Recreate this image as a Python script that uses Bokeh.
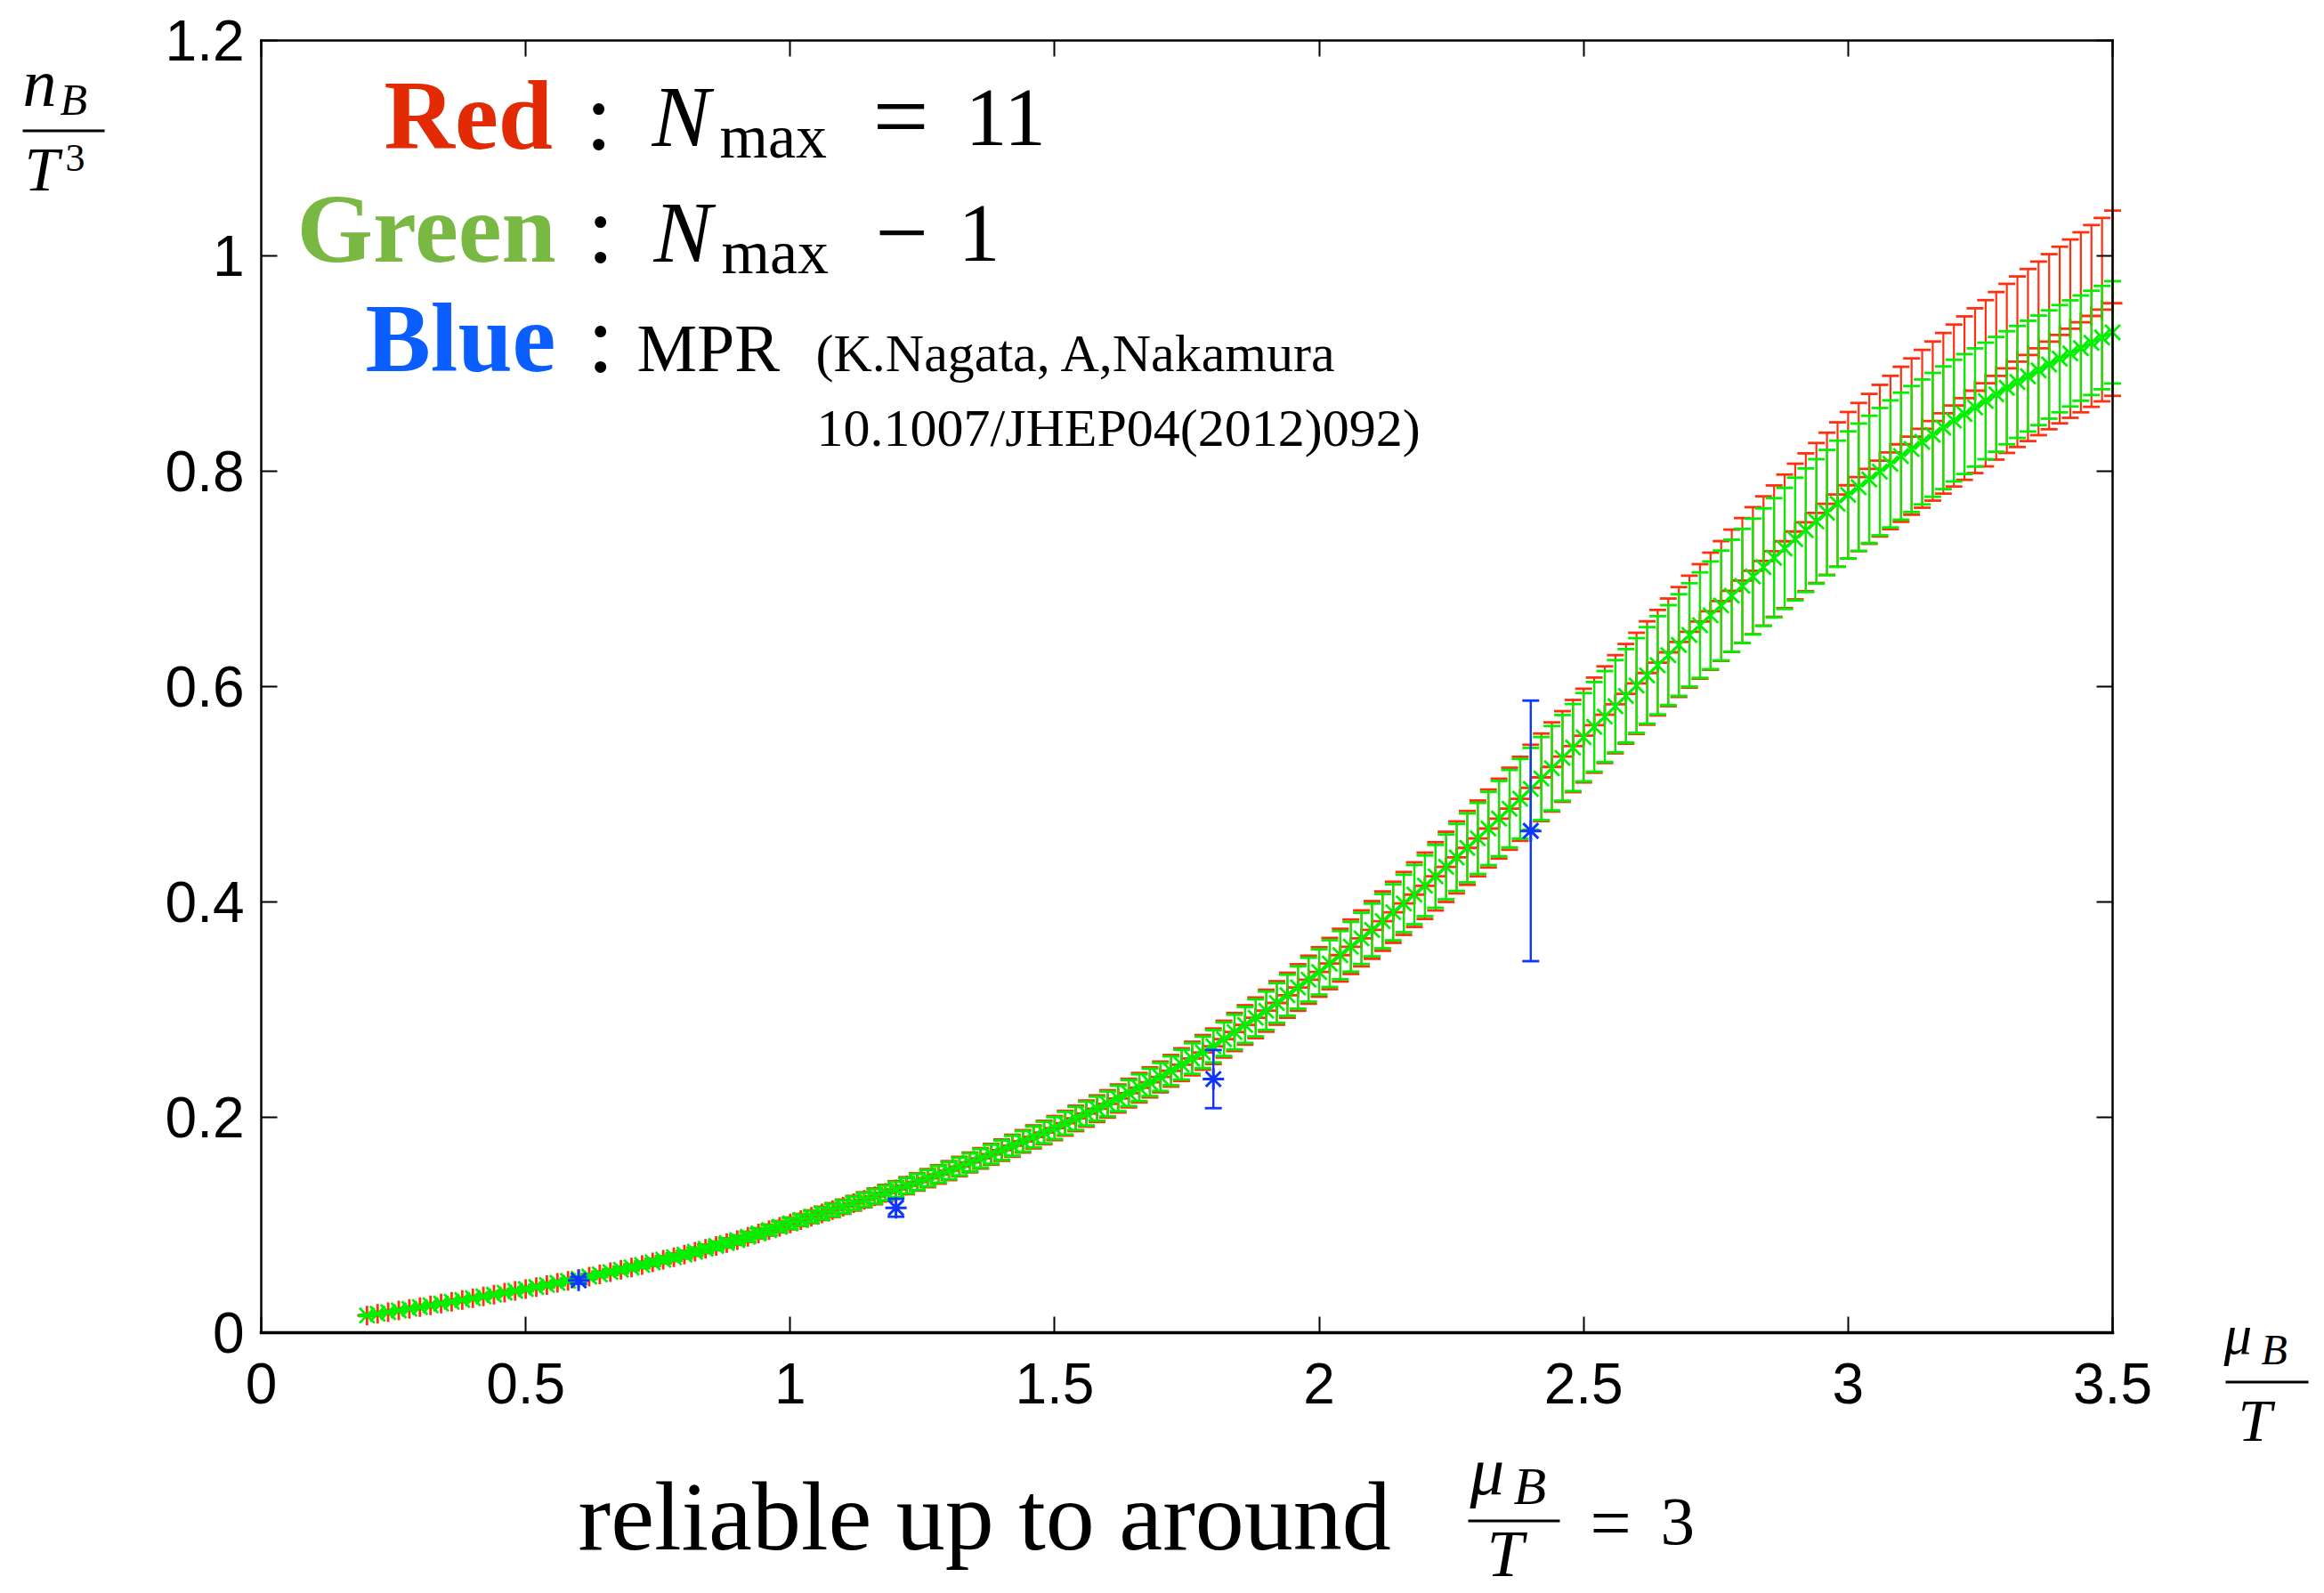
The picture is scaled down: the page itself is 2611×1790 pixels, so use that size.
import numpy as np
from bokeh.plotting import figure
from bokeh.models import (ColumnDataSource, Label, LinearAxis, FixedTicker,
                          PolyAnnotation, Range1d)
from bokeh.embed import file_html
from bokeh.resources import INLINE

# ---------------------------------------------------------------- data
# mu_B / T sampling grid of the reconstructed curves
mu = np.round(np.linspace(0.2, 3.5, 166), 2)

# Green: N_max - 1 (central value and error)
green_val = [
    0.0160, 0.0176, 0.0191, 0.0207, 0.0222, 0.0238, 0.0254, 0.0271, 0.0287, 0.0304,
    0.0320, 0.0337, 0.0354, 0.0371, 0.0388, 0.0405, 0.0424, 0.0443, 0.0462, 0.0481,
    0.0500, 0.0521, 0.0542, 0.0563, 0.0584, 0.0605, 0.0629, 0.0653, 0.0677, 0.0701,
    0.0725, 0.0752, 0.0779, 0.0806, 0.0833, 0.0860, 0.0891, 0.0922, 0.0953, 0.0984,
    0.1015, 0.1046, 0.1077, 0.1108, 0.1139, 0.1170, 0.1202, 0.1234, 0.1266, 0.1298,
    0.1330, 0.1365, 0.1400, 0.1435, 0.1470, 0.1505, 0.1543, 0.1581, 0.1619, 0.1657,
    0.1695, 0.1736, 0.1777, 0.1818, 0.1859, 0.1900, 0.1945, 0.1990, 0.2035, 0.2080,
    0.2125, 0.2175, 0.2225, 0.2275, 0.2325, 0.2375, 0.2432, 0.2489, 0.2546, 0.2603,
    0.2660, 0.2726, 0.2792, 0.2858, 0.2924, 0.2990, 0.3062, 0.3134, 0.3206, 0.3278,
    0.3350, 0.3428, 0.3506, 0.3584, 0.3662, 0.3740, 0.3822, 0.3904, 0.3986, 0.4068,
    0.4150, 0.4238, 0.4326, 0.4414, 0.4502, 0.4590, 0.4682, 0.4774, 0.4866, 0.4958,
    0.5050, 0.5146, 0.5242, 0.5338, 0.5434, 0.5530, 0.5626, 0.5722, 0.5818, 0.5914,
    0.6010, 0.6104, 0.6198, 0.6292, 0.6386, 0.6480, 0.6571, 0.6662, 0.6753, 0.6844,
    0.6935, 0.7022, 0.7109, 0.7196, 0.7283, 0.7370, 0.7452, 0.7534, 0.7616, 0.7698,
    0.7780, 0.7852, 0.7924, 0.7996, 0.8068, 0.8140, 0.8206, 0.8272, 0.8338, 0.8404,
    0.8470, 0.8531, 0.8592, 0.8653, 0.8714, 0.8775, 0.8829, 0.8883, 0.8937, 0.8991,
    0.9045, 0.9094, 0.9143, 0.9192, 0.9241, 0.9290,
]
green_err = [
    0.0005, 0.0006, 0.0006, 0.0007, 0.0007, 0.0008, 0.0009, 0.0009, 0.0010, 0.0010,
    0.0011, 0.0012, 0.0013, 0.0013, 0.0014, 0.0015, 0.0016, 0.0017, 0.0018, 0.0019,
    0.0020, 0.0021, 0.0022, 0.0024, 0.0025, 0.0026, 0.0027, 0.0029, 0.0030, 0.0032,
    0.0033, 0.0035, 0.0036, 0.0038, 0.0039, 0.0041, 0.0043, 0.0045, 0.0046, 0.0048,
    0.0050, 0.0052, 0.0054, 0.0056, 0.0058, 0.0060, 0.0062, 0.0064, 0.0066, 0.0068,
    0.0070, 0.0072, 0.0074, 0.0076, 0.0078, 0.0080, 0.0082, 0.0084, 0.0086, 0.0088,
    0.0090, 0.0092, 0.0095, 0.0097, 0.0100, 0.0102, 0.0105, 0.0107, 0.0110, 0.0112,
    0.0115, 0.0118, 0.0121, 0.0124, 0.0127, 0.0130, 0.0134, 0.0138, 0.0142, 0.0146,
    0.0150, 0.0156, 0.0161, 0.0167, 0.0172, 0.0178, 0.0184, 0.0191, 0.0197, 0.0204,
    0.0210, 0.0217, 0.0224, 0.0231, 0.0238, 0.0245, 0.0252, 0.0260, 0.0267, 0.0275,
    0.0282, 0.0292, 0.0301, 0.0311, 0.0320, 0.0330, 0.0340, 0.0350, 0.0360, 0.0370,
    0.0380, 0.0386, 0.0392, 0.0398, 0.0404, 0.0410, 0.0416, 0.0422, 0.0428, 0.0434,
    0.0440, 0.0448, 0.0456, 0.0464, 0.0472, 0.0480, 0.0490, 0.0500, 0.0510, 0.0520,
    0.0530, 0.0538, 0.0546, 0.0554, 0.0562, 0.0570, 0.0574, 0.0578, 0.0582, 0.0586,
    0.0590, 0.0591, 0.0591, 0.0591, 0.0590, 0.0590, 0.0585, 0.0580, 0.0575, 0.0570,
    0.0565, 0.0557, 0.0549, 0.0541, 0.0533, 0.0525, 0.0520, 0.0514, 0.0509, 0.0503,
    0.0498, 0.0493, 0.0489, 0.0484, 0.0480, 0.0475,
]

# Red: N_max = 11 (central value and error)
red_val = green_val[:110] + [
    0.5060, 0.5157, 0.5254, 0.5351, 0.5448, 0.5545, 0.5642, 0.5739, 0.5836, 0.5933,
    0.6030, 0.6126, 0.6222, 0.6318, 0.6414, 0.6510, 0.6605, 0.6700, 0.6795, 0.6890,
    0.6985, 0.7076, 0.7167, 0.7258, 0.7349, 0.7440, 0.7526, 0.7612, 0.7698, 0.7784,
    0.7870, 0.7946, 0.8022, 0.8098, 0.8174, 0.8250, 0.8322, 0.8394, 0.8466, 0.8538,
    0.8610, 0.8679, 0.8748, 0.8817, 0.8886, 0.8955, 0.9017, 0.9079, 0.9141, 0.9203,
    0.9265, 0.9324, 0.9383, 0.9442, 0.9501, 0.9560,
]
red_err = [
    0.0006, 0.0007, 0.0007, 0.0008, 0.0008, 0.0009, 0.0010, 0.0010, 0.0011, 0.0011,
    0.0012, 0.0013, 0.0014, 0.0015, 0.0016, 0.0017, 0.0018, 0.0019, 0.0020, 0.0021,
    0.0022, 0.0023, 0.0025, 0.0026, 0.0028, 0.0029, 0.0030, 0.0032, 0.0033, 0.0035,
    0.0036, 0.0038, 0.0040, 0.0041, 0.0043, 0.0045, 0.0047, 0.0049, 0.0051, 0.0053,
    0.0055, 0.0057, 0.0059, 0.0062, 0.0064, 0.0066, 0.0068, 0.0070, 0.0073, 0.0075,
    0.0077, 0.0079, 0.0081, 0.0084, 0.0086, 0.0088, 0.0090, 0.0092, 0.0095, 0.0097,
    0.0099, 0.0102, 0.0104, 0.0107, 0.0109, 0.0112, 0.0115, 0.0118, 0.0121, 0.0124,
    0.0127, 0.0130, 0.0133, 0.0137, 0.0140, 0.0143, 0.0147, 0.0152, 0.0156, 0.0161,
    0.0165, 0.0171, 0.0177, 0.0183, 0.0189, 0.0195, 0.0202, 0.0209, 0.0216, 0.0223,
    0.0230, 0.0238, 0.0245, 0.0253, 0.0260, 0.0268, 0.0276, 0.0284, 0.0292, 0.0300,
    0.0308, 0.0317, 0.0326, 0.0334, 0.0343, 0.0352, 0.0362, 0.0371, 0.0381, 0.0390,
    0.0400, 0.0407, 0.0414, 0.0421, 0.0428, 0.0435, 0.0442, 0.0449, 0.0456, 0.0463,
    0.0470, 0.0480, 0.0490, 0.0500, 0.0510, 0.0520, 0.0532, 0.0544, 0.0556, 0.0568,
    0.0580, 0.0590, 0.0600, 0.0610, 0.0620, 0.0630, 0.0640, 0.0650, 0.0660, 0.0670,
    0.0680, 0.0688, 0.0696, 0.0704, 0.0712, 0.0720, 0.0726, 0.0733, 0.0739, 0.0746,
    0.0752, 0.0759, 0.0765, 0.0772, 0.0778, 0.0785, 0.0792, 0.0799, 0.0806, 0.0813,
    0.0820, 0.0828, 0.0836, 0.0844, 0.0852, 0.0860,
]

# Blue: MPR points
mpr_mu = [0.6, 1.2, 1.8, 2.4]
mpr_val = [0.0485, 0.116, 0.2355, 0.466]
mpr_err = [0.003, 0.0083, 0.027, 0.121]

x_ticks = [0, 0.5, 1, 1.5, 2, 2.5, 3, 3.5]
x_tick_labels = ["0", "0.5", "1", "1.5", "2", "2.5", "3", "3.5"]
y_ticks = [0, 0.2, 0.4, 0.6, 0.8, 1.0, 1.2]
y_tick_labels = ["0", "0.2", "0.4", "0.6", "0.8", "1", "1.2"]

# ---------------------------------------------------------------- styling
RED = "#ff3010"
GREEN = "#00f000"
BLUE = "#1035ff"
SERIF = "Liberation Serif"
SANS = "Liberation Sans"

W, H = 2611, 1790
L, R, T, B = 293, 2373, 45, 1497          # axes box edges in page pixels
XMIN, XMAX, YMIN, YMAX = 0.0, 3.5, 0.0, 1.2

# the plotting frame fills the page; the axes box sits inside it
sx = (XMAX - XMIN) / (R - L)
sy = (YMAX - YMIN) / (B - T)
x_range = Range1d(XMIN - L * sx, XMAX + (W - R) * sx)
y_range = Range1d(YMIN - (H - B) * sy, YMAX + T * sy)

p = figure(width=W, height=H, x_range=x_range, y_range=y_range,
           output_backend="svg", toolbar_location=None,
           x_axis_type=None, y_axis_type=None, min_border=0)
p.background_fill_color = "white"
p.border_fill_color = "white"
p.outline_line_color = None
p.xgrid.visible = False
p.ygrid.visible = False


def make_axis(ticks, labels, where, bounds, show_labels):
    ax = LinearAxis(fixed_location=where, bounds=bounds)
    ax.ticker = FixedTicker(ticks=ticks)
    ax.major_label_overrides = {t: s for t, s in zip(ticks, labels)}
    ax.major_tick_in = 18
    ax.major_tick_out = 0
    ax.major_tick_line_width = 2
    ax.major_tick_line_color = "black"
    ax.minor_tick_line_color = None
    ax.axis_line_color = "black"
    ax.axis_line_width = 2.5
    ax.axis_line_cap = "square"
    if show_labels:
        ax.major_label_text_font = SANS
        ax.major_label_text_font_size = "64px"
        ax.major_label_text_color = "black"
    else:
        ax.major_label_text_color = None
    return ax


xb = make_axis(x_ticks, x_tick_labels, YMIN, (XMIN, XMAX), True)
xb.major_label_standoff = 34
xb.axis_line_width = 3.5
p.add_layout(xb, "below")

yl = make_axis(y_ticks, y_tick_labels, XMIN, (YMIN, YMAX), True)
yl.major_label_standoff = 19
p.add_layout(yl, "left")

p.add_layout(make_axis(x_ticks, x_tick_labels, YMAX, (XMIN, XMAX), False), "above")
p.add_layout(make_axis(y_ticks, y_tick_labels, XMAX, (YMIN, YMAX), False), "right")

# ---------------------------------------------------------------- series
gv, ge = np.array(green_val), np.array(green_err)
rv, re_ = np.array(red_val), np.array(red_err)
mv, me = np.array(mpr_val), np.array(mpr_err)

red_src = ColumnDataSource(dict(x=mu, y=rv, lo=rv - re_, hi=rv + re_))
green_src = ColumnDataSource(dict(x=mu, y=gv, lo=gv - ge, hi=gv + ge))
mpr_src = ColumnDataSource(dict(x=mpr_mu, y=mv, lo=mv - me, hi=mv + me))

# red error bars with '+' markers
p.segment(x0="x", y0="lo", x1="x", y1="hi", source=red_src, line_color=RED, line_width=2.2)
p.scatter("x", "hi", source=red_src, marker="dash", size=19, line_color=RED, line_width=2.8)
p.scatter("x", "lo", source=red_src, marker="dash", size=19, line_color=RED, line_width=2.8)
p.scatter("x", "y", source=red_src, marker="cross", size=22, line_color=RED, line_width=2.8)

# green error bars, line and 'x' markers
p.segment(x0="x", y0="lo", x1="x", y1="hi", source=green_src, line_color=GREEN, line_width=2.2)
p.scatter("x", "hi", source=green_src, marker="dash", size=19, line_color=GREEN, line_width=2.8)
p.scatter("x", "lo", source=green_src, marker="dash", size=19, line_color=GREEN, line_width=2.8)
p.line("x", "y", source=green_src, line_color=GREEN, line_width=2.8)
p.scatter("x", "y", source=green_src, marker="x", size=24, line_color=GREEN, line_width=2.8)

# blue MPR points
p.segment(x0="x", y0="lo", x1="x", y1="hi", source=mpr_src, line_color=BLUE, line_width=2.4)
p.scatter("x", "hi", source=mpr_src, marker="dash", size=19, line_color=BLUE, line_width=2.8)
p.scatter("x", "lo", source=mpr_src, marker="dash", size=19, line_color=BLUE, line_width=2.8)
p.scatter("x", "y", source=mpr_src, marker="asterisk", size=24, line_color=BLUE, line_width=3)


# ---------------------------------------------------------------- texts
def to_data(px, py):
    """Page pixel position -> data coordinates."""
    return XMIN + (px - L) * sx, YMIN + (B - py) * sy


BASE_SHIFT = 0.33   # baseline offset of the text layout, in em


def text(px, base, s, size, color="black", font=SERIF, style="normal"):
    x, y = to_data(px, base - BASE_SHIFT * size)
    p.add_layout(Label(x=x, y=y, text=s, text_font=font, text_font_size=f"{size}px",
                       text_font_style=style, text_color=color, text_align="left",
                       text_baseline="alphabetic"))


def bar(x0, x1, y0, y1):
    a0, b0 = to_data(x0, y0)
    a1, b1 = to_data(x1, y1)
    p.add_layout(PolyAnnotation(xs=[a0, a1, a1, a0], ys=[b0, b0, b1, b1],
                                fill_color="black", fill_alpha=1.0, line_color=None))


# y axis title  n_B / T^3
text(25, 118, "n", 76, style="italic")
text(67, 128, "B", 50, style="italic")
bar(25, 117, 145, 148)
text(27, 213, "T", 70, style="italic")
text(73, 192, "3", 44)

# x axis title  mu_B / T
text(2498, 1520, "μ", 63, style="italic")
text(2540, 1532, "B", 48, style="italic")
bar(2500, 2593, 1551, 1554)
text(2514, 1618, "T", 68, style="italic")

# key, row 1
text(431, 166, "Red", 110, color="#e22a05", style="bold")
text(657, 166, ":", 110)
text(732, 163, "N", 98, style="italic")
text(808, 176, "max", 70)
text(980, 166, "=", 112)
text(1084, 163, "11", 94)
# key, row 2
text(333, 293, "Green", 110, color="#78b843", style="bold")
text(659, 293, ":", 110)
text(734, 293, "N", 98, style="italic")
text(810, 306, "max", 70)
text(983, 296, "\u2212", 106)
text(1076, 293, "1", 94)
# key, row 3
text(410, 416, "Blue", 110, color="#0a5dff", style="bold")
text(659, 416, ":", 110)
text(715, 416, "MPR", 76)
text(916, 416, "(K.Nagata, A,Nakamura", 60)
text(917, 500, "10.1007/JHEP04(2012)092)", 60)

# note below the axes
text(649, 1740, "reliable up to around", 110)
text(1651, 1678, "μ", 77, style="italic")
text(1700, 1689, "B", 60, style="italic")
bar(1649, 1752, 1707, 1710)
text(1670, 1770, "T", 74, style="italic")
text(1786, 1738, "=", 82)
text(1865, 1735, "3", 77)

open("out.html", "w").write(file_html(p, INLINE))
